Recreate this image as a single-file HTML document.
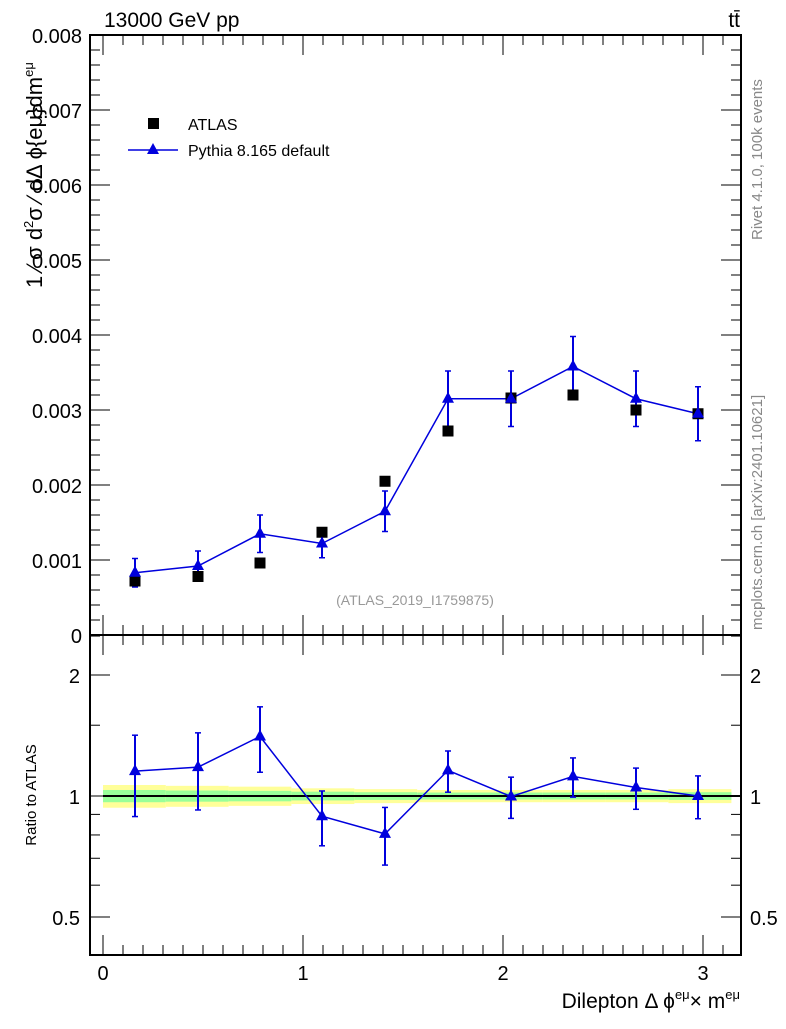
<!DOCTYPE html>
<html><head><meta charset="utf-8"><style>
body{margin:0;background:#fff;width:786px;height:1024px;overflow:hidden}
svg{font-family:"Liberation Sans",sans-serif}
</style></head><body>
<svg id="c" width="786" height="1024" xmlns="http://www.w3.org/2000/svg"></svg>
<script>
const binEdges=[0,0.314,0.628,0.942,1.257,1.571,1.885,2.199,2.513,2.827,3.142];
const xCenters=[0.16,0.475,0.785,1.095,1.41,1.725,2.04,2.35,2.665,2.975];
const atlasVals=[0.00072,0.00078,0.00096,0.00137,0.00205,0.00272,0.00316,0.00320,0.00300,0.00295];
const mcVals=[0.00083,0.00092,0.00135,0.00122,0.00165,0.00315,0.00315,0.00358,0.00315,0.00295];
const mcErr=[0.00019,0.00020,0.00025,0.00019,0.00027,0.00037,0.00037,0.00040,0.00037,0.00036];
const bandYellow=[0.065,0.06,0.055,0.045,0.04,0.035,0.035,0.035,0.035,0.04];
const bandGreen=[0.035,0.032,0.03,0.025,0.022,0.02,0.02,0.02,0.02,0.022];
const yTicksMain=[0,0.001,0.002,0.003,0.004,0.005,0.006,0.007,0.008];
const yTickLabelsMain=["0","0.001","0.002","0.003","0.004","0.005","0.006","0.007","0.008"];
const xTicks=[0,1,2,3];
const ratioTicks=[0.5,1,2];

const svg=document.getElementById('c');
const NS="http://www.w3.org/2000/svg";
const X0=90,X1=741,MT=35,MB=635,RB=955;
const sx=v=>103+200*v;
const sy=v=>635-v*75000;
const sr=r=>796-121*Math.log2(r);
function el(tag,attrs,name,text){const e=document.createElementNS(NS,tag);for(const k in attrs)e.setAttribute(k,attrs[k]);


if(text!==undefined)e.textContent=text;svg.appendChild(e);return e;}
function line(x1,y1,x2,y2,name,c,w){return el('line',{x1,y1,x2,y2,stroke:c||'#000','stroke-width':w||1},name);}
function rich(attrs,name,parts){const t=el('text',attrs,name);parts.forEach(p=>{const s=document.createElementNS(NS,'tspan');
 if(p[1]==='sup'){s.setAttribute('dy','-9');s.setAttribute('font-size','13');}
 else if(p[1]==='back'){s.setAttribute('dy','9');}
 s.textContent=p[0];t.appendChild(s);});return t;}

for(let i=0;i<10;i++){
 const xa=sx(binEdges[i]),xb=sx(binEdges[i+1]);
 el('rect',{x:xa,y:sr(1+bandYellow[i]),width:xb-xa,height:sr(1-bandYellow[i])-sr(1+bandYellow[i]),fill:'#ffff99'},'ratio-band-yellow');
 el('rect',{x:xa,y:sr(1+bandGreen[i]),width:xb-xa,height:sr(1-bandGreen[i])-sr(1+bandGreen[i]),fill:'#99ff99'},'ratio-band-green');
}
line(103,796,741,796,'ratio-unity-line','#000',2);

el('rect',{x:X0,y:MT,width:X1-X0,height:MB-MT,fill:'none',stroke:'#000','stroke-width':2},'main-frame');
el('rect',{x:X0,y:MB,width:X1-X0,height:RB-MB,fill:'none',stroke:'#000','stroke-width':2},'ratio-frame');

for(let i=0;i<yTicksMain.length;i++){const y=sy(yTicksMain[i]);
 line(X0,y,X0+20,y,'y-tick');line(X1-20,y,X1,y,'y-tick');
 el('text',{x:82,y:y+8,'text-anchor':'end','font-size':20},'y-tick-label',yTickLabelsMain[i]);
 if(i<8)for(let k=1;k<5;k++){const yy=sy(yTicksMain[i]+k*0.0002);line(X0,yy,X0+10,yy,'y-minor-tick');line(X1-10,yy,X1,yy,'y-minor-tick');}
}
for(let v=-0.0;v<=3.19;v+=0.1){const x=sx(v);const maj=Math.abs(v-Math.round(v))<0.01;const L=maj?20:10;
 line(x,MT,x,MT+L,'x-tick');line(x,MB-L,x,MB,'x-tick');line(x,MB,x,MB+L,'x-tick');line(x,RB-L,x,RB,'x-tick');}
xTicks.forEach(t=>el('text',{x:sx(t),y:980,'text-anchor':'middle','font-size':20},'x-tick-label',String(t)));
ratioTicks.forEach(r=>{const y=sr(r);line(X0,y,X0+20,y,'ratio-tick');line(X1-20,y,X1,y,'ratio-tick');
 el('text',{x:80,y:y+8,'text-anchor':'end','font-size':20},'ratio-tick-label',String(r));
 el('text',{x:750,y:y+8,'font-size':20},'ratio-tick-label',String(r));});
[0.6,0.7,0.8,0.9,1.5,2.5].forEach(r=>{const y=sr(r);line(X0,y,X0+10,y,'ratio-minor-tick');line(X1-10,y,X1,y,'ratio-minor-tick');});

let pts=xCenters.map((x,i)=>sx(x)+','+sy(mcVals[i])).join(' ');
el('polyline',{points:pts,fill:'none',stroke:'#0000dd','stroke-width':1.5},'mc-line');
xCenters.forEach((x,i)=>{const cx=sx(x);const a=sy(mcVals[i]+mcErr[i]),b=sy(mcVals[i]-mcErr[i]);
 line(cx,a,cx,b,'mc-error-bar','#0000dd',2);line(cx-3,a,cx+3,a,'mc-error-cap','#0000dd',1.5);line(cx-3,b,cx+3,b,'mc-error-cap','#0000dd',1.5);});
xCenters.forEach((x,i)=>el('rect',{x:sx(x)-5.5,y:sy(atlasVals[i])-5.5,width:11,height:11,fill:'#000'},'atlas-point'));
xCenters.forEach((x,i)=>{const cx=sx(x),cy=sy(mcVals[i]);el('polygon',{points:`${cx},${cy-7} ${cx-6},${cy+4} ${cx+6},${cy+4}`,fill:'#0000dd'},'mc-point');});

const rv=mcVals.map((v,i)=>v/atlasVals[i]);
const re=mcErr.map((v,i)=>v/atlasVals[i]);
pts=xCenters.map((x,i)=>sx(x)+','+sr(rv[i])).join(' ');
el('polyline',{points:pts,fill:'none',stroke:'#0000dd','stroke-width':1.5},'ratio-line');
xCenters.forEach((x,i)=>{const cx=sx(x);const a=sr(rv[i]+re[i]),b=sr(Math.max(rv[i]-re[i],0.3));
 line(cx,a,cx,b,'ratio-error-bar','#0000dd',2);line(cx-3,a,cx+3,a,'ratio-error-cap','#0000dd',1.5);line(cx-3,b,cx+3,b,'ratio-error-cap','#0000dd',1.5);
 const cy=sr(rv[i]);el('polygon',{points:`${cx},${cy-7} ${cx-6},${cy+4} ${cx+6},${cy+4}`,fill:'#0000dd'},'ratio-point');});

el('text',{x:104,y:27,'font-size':21},'title-energy','13000 GeV pp');
el('text',{x:740,y:27,'text-anchor':'end','font-size':21},'title-process','tt̄');
el('rect',{x:148,y:118,width:11,height:11,fill:'#000'},'legend-atlas-marker');
el('text',{x:188,y:130,'font-size':16},'legend-atlas-label','ATLAS');
line(128,150,178,150,'legend-mc-line','#0000dd',1.5);
el('polygon',{points:'153,143 147,154 159,154',fill:'#0000dd'},'legend-mc-marker');
el('text',{x:188,y:156,'font-size':16},'legend-mc-label','Pythia 8.165 default');
el('text',{x:415,y:605,'text-anchor':'middle','font-size':14,fill:'#999'},'analysis-id','(ATLAS_2019_I1759875)');
rich({x:0,y:0,'font-size':22,transform:'translate(42,288) rotate(-90)'},'y-axis-title',
 [['1 ⁄ σ  d',''],['2','sup'],['σ ⁄ dΔ ϕ{eμ}dm','back'],['eμ','sup']]);
el('text',{x:0,y:0,'font-size':15,'text-anchor':'middle',transform:'translate(36,795) rotate(-90)'},'ratio-axis-title','Ratio to ATLAS');
rich({x:740,y:1008,'text-anchor':'end','font-size':21},'x-axis-title',
 [['Dilepton Δ ϕ',''],['eμ','sup'],['× m','back'],['eμ','sup']]);
el('text',{x:0,y:0,'font-size':15,fill:'#888',transform:'translate(762,240) rotate(-90)'},'rivet-label','Rivet 4.1.0,  100k events');
el('text',{x:0,y:0,'font-size':15,fill:'#888',transform:'translate(762,630) rotate(-90)'},'mcplots-label','mcplots.cern.ch [arXiv:2401.10621]');
</script>
</body></html>
